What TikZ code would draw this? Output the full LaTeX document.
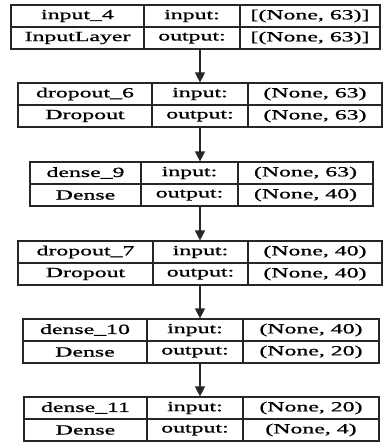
\documentclass[tikz,border=0pt]{standalone}
\usepackage{fontspec}
\setmainfont{Liberation Serif}[FakeStretch=1.7, FakeBold=1]
\usepackage{tikz}
\usetikzlibrary{positioning, arrows.meta, fit}

\tikzset{
  layerbox/.style={draw=black!85, line width=1.2pt, inner sep=0pt},
  cell/.style={font=\fontsize{14}{16}\selectfont, inner sep=0pt},
  flow/.style={draw=black!85, line width=1.2pt, -{Triangle[width=10pt, length=10pt]}}
}

\begin{document}
\begin{tikzpicture}[x=1pt, y=-1pt]
    \useasboundingbox (0,0) rectangle (385,442);
    \coordinate (spine) at (200,0);
    % Layer tables: name / left / col1 / col2 / right / top / label / type / input / output
    \foreach \nn/\xl/\xa/\xb/\xr/\yt/\nm/\ty/\iv/\ov in {
        input4/11/144/240/380/5/input\_4/InputLayer/{[(None, 63)]}/{[(None, 63)]},
        drop6/18/152/248/382/83/dropout\_6/Dropout/{(None, 63)}/{(None, 63)},
        dense9/30/141/238/373/162/dense\_9/Dense/{(None, 63)}/{(None, 40)},
        drop7/18/153/248/382/241/dropout\_7/Dropout/{(None, 40)}/{(None, 40)},
        dense10/23/147/243/379/319/dense\_10/Dense/{(None, 40)}/{(None, 20)},
        dense11/24/147/243/379/397/dense\_11/Dense/{(None, 20)}/{(None, 4)}} {
        \coordinate (\nn-nw) at (\xl,\yt);
        \coordinate (\nn-se) at (\xr,\yt+44);
        \node[layerbox, fit=(\nn-nw)(\nn-se)] (\nn) {};
        \draw[layerbox] (\xl,\yt+22) -- (\xr,\yt+22);
        \draw[layerbox] (\xa,\yt) -- (\xa,\yt+44);
        \draw[layerbox] (\xb,\yt) -- (\xb,\yt+44);
        \node[cell] (\nn-name) at ({(\xl+\xa)/2},\yt+11) {\nm};
        \node[cell] (\nn-type) at ({(\xl+\xa)/2},\yt+33) {\ty};
        \node[cell] (\nn-inkey) at ({(\xa+\xb)/2},\yt+11) {input:};
        \node[cell] (\nn-outkey) at ({(\xa+\xb)/2},\yt+33) {output:};
        \node[cell] (\nn-in) at ({(\xb+\xr)/2},\yt+11) {\iv};
        \node[cell] (\nn-out) at ({(\xb+\xr)/2},\yt+33) {\ov};
    }
    % Flow between layers
    \foreach \src/\dst in {input4/drop6, drop6/dense9, dense9/drop7, drop7/dense10, dense10/dense11} {
        \draw[flow] (\src.south -| spine) -- (\dst.north -| spine);
    }
\end{tikzpicture}
\end{document}
